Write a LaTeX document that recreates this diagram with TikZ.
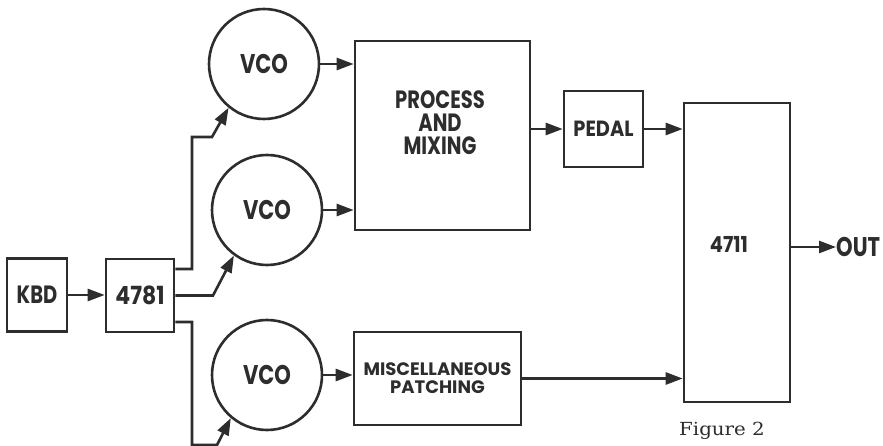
\documentclass[tikz,border=0pt]{standalone}
\usepackage{fontspec}
\newfontfamily\dfontc[FakeStretch=0.78]{Poppins}
\newfontfamily\dfontm[FakeStretch=0.88]{Poppins}
\newfontfamily\dfontn{Poppins}
\newfontfamily\figfont[FakeStretch=1.1]{DejaVu Serif}
\usetikzlibrary{arrows.meta}
\definecolor{ink}{RGB}{45,45,45}
\begin{document}
\begin{tikzpicture}[x=1pt,y=-1pt,
  lbl/.style={text=ink, inner sep=0pt},
  blk/.style={draw=ink, line width=2.6pt, rectangle, inner sep=0pt, lbl},
  vco/.style={draw=ink, line width=2.6pt, circle, minimum size=110pt, inner sep=0pt, lbl, font=\dfontc\bfseries\fontsize{27}{27}\selectfont},
  arr/.style={draw=ink, line width=2.6pt, -{Triangle[length=17pt,width=12pt]}},
  wire/.style={draw=ink, line width=2.6pt}]
\useasboundingbox (0,0) rectangle (883,446);
% blocks
\node[blk, minimum width=60pt, minimum height=73pt, font=\dfontc\bfseries\fontsize{25}{25}\selectfont] (kbd) at (37,295) {KBD};
\node[blk, minimum width=68pt, minimum height=73pt, font=\dfontm\bfseries\fontsize{25}{25}\selectfont] (c4781) at (140,295.5) {4781};
\node[vco] (vco1) at (264,64) {VCO};
\node[vco] (vco2) at (267,210) {VCO};
\node[vco] (vco3) at (267,375) {VCO};
\node[blk, minimum width=175pt, minimum height=189pt] (proc) at (442.5,135.5) {};
\node[lbl, align=center, font=\dfontc\bfseries\fontsize{25}{23}\selectfont] (proctxt) at (440,123) {PROCESS\\AND\\MIXING};
\node[blk, minimum width=79pt, minimum height=76pt, font=\dfontm\bfseries\fontsize{22}{22}\selectfont] (pedal) at (603.5,129) {PEDAL};
\node[blk, minimum width=106pt, minimum height=299pt] (mix) at (737,252.5) {};
\node[lbl, font=\dfontm\bfseries\fontsize{22}{22}\selectfont] (mixtxt) at (729,244) {4711};
\node[blk, minimum width=167pt, minimum height=93pt, align=center, font=\dfontn\bfseries\fontsize{18}{18}\selectfont] (misc) at (437.5,378.5) {MISCELLANEOUS\\PATCHING};
\node[lbl, anchor=west, font=\dfontc\bfseries\fontsize{27}{27}\selectfont] (out) at (836,247) {OUT};
\node[font=\figfont\fontsize{18}{18}\selectfont, text=ink, inner sep=0pt] (fig) at (722,431) {Figure 2};
% connectors
\draw[arr] (kbd.east) -- (c4781.west |- kbd.east);
\draw[arr] ([yshift=26.5pt]c4781.east) -| (192,137) -- (212,137) -- (vco1.231);
\draw[arr] (c4781.east) -- (213,295.5) -- (vco2.234);
\draw[arr] ([yshift=-26.5pt]c4781.east) -| (192,445) -- (217,445) -- (vco3.230);
\draw[arr] (vco1.east) -- (proc.west |- vco1.east);
\draw[arr] (vco2.east) -- (proc.west |- vco2.east);
\draw[arr] (proc.east |- pedal.west) -- (pedal.west);
\draw[arr] (pedal.east) -- (mix.west |- pedal.east);
\draw[arr] (vco3.east) -- (misc.west |- vco3.east);
\draw[arr] (misc.east) -- (mix.west |- misc.east);
\draw[arr] (mix.east |- out.west) -- (out.west);
\end{tikzpicture}
\end{document}
